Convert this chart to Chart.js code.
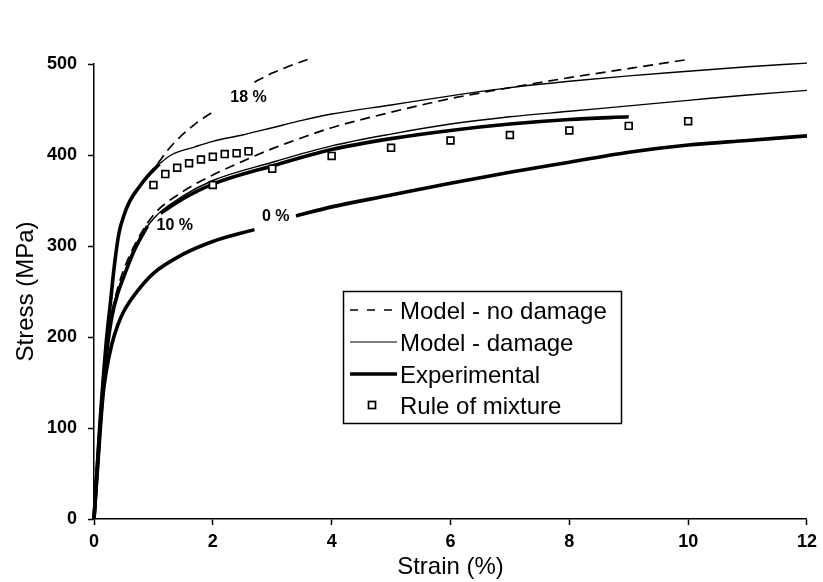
<!DOCTYPE html>
<html>
<head>
<meta charset="utf-8">
<title>Stress - strain</title>
<script src="https://cdn.jsdelivr.net/npm/chart.js@4.4.1/dist/chart.umd.min.js"></script>
<style>
  html, body { margin: 0; padding: 0; background: #fff; }
  #wrap { width: 823px; height: 582px; }
</style>
</head>
<body>
<div id="wrap"><canvas id="js_stressChart" width="823" height="582"></canvas></div>
<script>
// 0 % particles - experimental (gap where the "0 %" label sits)
const expStrain0 = [0, 0.08, 0.15, 0.2, 0.3, 0.4, 0.5, 0.75, 1.0, 1.5, 2.0, 2.7, 3.0, 3.4, 4, 5, 6, 7, 8, 9, 10, 11, 12];
const expStress0 = [0, 75, 135, 160, 192, 213, 228, 252, 270, 291, 305, 318, null, 333, 343, 356, 369, 381, 392, 403, 411, 416, 421];

// 10 % particles
const expStrain10 = [0, 0.1, 0.2, 0.3, 0.4, 0.5, 0.67, 0.9, 1.0, 1.12, 1.5, 2, 3, 4, 5, 6, 7, 8, 9];
const expStress10 = [0, 100, 175, 222, 248, 266, 294, 322, null, 336, 352, 368, 388, 406, 418, 427, 434, 439, 442];
const dmgStrain10 = [0, 0.1, 0.2, 0.3, 0.4, 0.5, 0.67, 1.0, 1.5, 2, 3, 4, 5, 6, 7, 8, 9, 10, 11, 12];
const dmgStress10 = [0, 100, 176, 224, 250, 268, 297, 330, 355, 372, 392, 410, 423, 434, 442, 448, 454, 460, 466, 471];
const noDmgStrain10 = [0, 0.1, 0.2, 0.3, 0.4, 0.5, 0.7, 1, 1.5, 2, 2.5, 3, 3.5, 4, 5, 6, 7, 8, 9, 10];
const noDmgStress10 = [0, 100, 178, 226, 254, 274, 303, 334, 360, 378, 393, 407, 419, 430, 447, 462, 474, 485, 495, 505];

// 18 % particles
const expStrain18 = [0, 0.1, 0.2, 0.28, 0.34, 0.42, 0.5, 0.6, 0.75, 0.92, 1.1];
const expStress18 = [0, 105, 190, 240, 277, 314, 333, 349, 364, 378, 390];
const dmgStrain18 = [0, 0.1, 0.2, 0.28, 0.34, 0.42, 0.5, 0.6, 0.75, 0.92, 1.1, 1.3, 1.7, 2, 2.5, 3, 3.5, 4, 5, 6, 7, 8, 9, 10, 11, 12];
const dmgStress18 = [0, 105, 190, 240, 277, 314, 333, 349, 364, 378, 390, 400, 409, 415, 422, 430, 438, 445, 455, 465, 474, 481, 487, 492, 497, 501];
const noDmgStrain18 = [0, 0.1, 0.2, 0.28, 0.34, 0.42, 0.5, 0.6, 0.75, 0.92, 1.1, 1.25, 1.45, 1.7, 2.04, 2.4, 2.7, 3.0, 3.3, 3.6];
const noDmgStress18 = [0, 105, 190, 240, 277, 314, 333, 349, 364, 378, 393, 406, 420, 434, 449, null, 480, 490, 498, 505];

// rule of mixture
const romStrain = [1.0, 1.2, 1.4, 1.6, 1.8, 2.0, 2.2, 2.4, 2.6, 2, 3, 4, 5, 6, 7, 8, 9, 10];
const romStress = [367, 379, 386, 391, 395, 398, 401, 402, 404, 367, 385, 399, 408, 416, 422, 427, 432, 437];

// curve labels
const curveLabels = ['18 %', '10 %', '0 %'];
const labelStrain = [2.6, 1.36, 3.06];
const labelStress = [463, 322, 332];

// tick values
const xTicks = [0, 2, 4, 6, 8, 10, 12];
const yTicks = [0, 100, 200, 300, 400, 500];

const legendItems = ['Model - no damage', 'Model - damage', 'Experimental', 'Rule of mixture'];

const FONT = "'Liberation Sans', Arial, Helvetica, sans-serif";
const DASH = [10, 6];

const pts = (xs, ys) => xs.map((x, i) => ({ x, y: ys[i] }));

const lineSet = (label, xs, ys, width, dash) => ({
  label,
  data: pts(xs, ys),
  borderColor: '#000',
  backgroundColor: '#000',
  borderWidth: width,
  borderDash: dash || [],
  pointRadius: 0,
  pointHoverRadius: 0,
  cubicInterpolationMode: 'monotone',
  spanGaps: false,
  clip: false,
  fill: false,
});

const datasets = [
  {
    label: 'Rule of mixture',
    data: pts(romStrain, romStress),
    showLine: false,
    pointStyle: 'rect',
    pointRadius: 4.8,
    pointBorderWidth: 1.7,
    pointBorderColor: '#000',
    pointBackgroundColor: '#fff',
    clip: false,
  },
  lineSet('Model - no damage 18', noDmgStrain18, noDmgStress18, 1.7, DASH),
  lineSet('Model - no damage 10', noDmgStrain10, noDmgStress10, 1.7, DASH),
  lineSet('Model - damage 18', dmgStrain18, dmgStress18, 1.4),
  lineSet('Model - damage 10', dmgStrain10, dmgStress10, 1.4),
  lineSet('Experimental 18', expStrain18, expStress18, 3.6),
  lineSet('Experimental 10', expStrain10, expStress10, 3.6),
  lineSet('Experimental 0', expStrain0, expStress0, 3.6),
];

// "18 %", "10 %", "0 %" next to the curves
const curveLabelPlugin = {
  id: 'curveLabels',
  afterDatasetsDraw(chart) {
    const { ctx, scales: { x, y } } = chart;
    ctx.save();
    ctx.fillStyle = '#000';
    ctx.font = 'bold 16px ' + FONT;
    ctx.textAlign = 'center';
    ctx.textBaseline = 'middle';
    curveLabels.forEach((t, i) => {
      ctx.fillText(t, x.getPixelForValue(labelStrain[i]), y.getPixelForValue(labelStress[i]));
    });
    ctx.restore();
  },
};

// boxed legend inside the plot
const legendBoxPlugin = {
  id: 'legendBox',
  afterDraw(chart) {
    const { ctx } = chart;
    const left = 343.5;
    const top = 291.5;
    const right = 621.5;
    const bottom = 423.5;
    const rows = [310, 342, 374, 405];
    ctx.save();
    ctx.fillStyle = '#fff';
    ctx.fillRect(left, top, right - left, bottom - top);
    ctx.strokeStyle = '#000';
    ctx.lineWidth = 1.5;
    ctx.strokeRect(left, top, right - left, bottom - top);

    const sample = (y, width, dash) => {
      ctx.beginPath();
      ctx.setLineDash(dash);
      ctx.lineWidth = width;
      ctx.moveTo(350, y);
      ctx.lineTo(dash.length ? 392 : 397, y);
      ctx.stroke();
      ctx.setLineDash([]);
    };
    sample(rows[0], 1.7, [8, 9]);
    sample(rows[1], 1.2, []);
    sample(rows[2], 3.6, []);
    ctx.lineWidth = 1.7;
    ctx.fillStyle = '#fff';
    ctx.fillRect(368.5, rows[3] - 3.5, 7, 7);
    ctx.strokeRect(368.5, rows[3] - 3.5, 7, 7);

    ctx.fillStyle = '#000';
    ctx.font = '24px ' + FONT;
    ctx.textAlign = 'left';
    ctx.textBaseline = 'alphabetic';
    legendItems.forEach((t, i) => ctx.fillText(t, 400, rows[i] + 8.5));
    ctx.restore();
  },
};

document.addEventListener('DOMContentLoaded', () => {
  const ctx = document.getElementById('js_stressChart');
  Chart.defaults.font.family = FONT;
  Chart.defaults.color = '#000';

  new Chart(ctx, {
    type: 'line',
    data: { datasets },
    options: {
      responsive: false,
      animation: false,
      devicePixelRatio: 1,
      layout: { padding: { top: 64, right: 12, bottom: 0, left: 0 } },
      plugins: {
        legend: { display: false },
        tooltip: { enabled: false },
      },
      scales: {
        x: {
          type: 'linear',
          min: 0,
          max: 12,
          afterFit: (s) => { s.height = 63; },
          afterBuildTicks: (s) => { s.ticks = xTicks.map((v) => ({ value: v })); },
          grid: { drawOnChartArea: false, color: '#000', tickLength: 6, tickWidth: 1.5 },
          border: { color: '#000', width: 1.5 },
          ticks: { font: { size: 18, weight: 'bold' }, padding: 6, maxRotation: 0 },
          title: { display: true, text: 'Strain (%)', font: { size: 24 }, padding: { top: 0, bottom: 0 } },
        },
        y: {
          type: 'linear',
          min: 0,
          max: 500,
          afterFit: (s) => { s.width = 94; },
          afterBuildTicks: (s) => { s.ticks = yTicks.map((v) => ({ value: v })); },
          grid: { drawOnChartArea: false, color: '#000', tickLength: 6, tickWidth: 1.5 },
          border: { color: '#000', width: 1.5 },
          ticks: { font: { size: 18, weight: 'bold' }, padding: 11 },
          title: { display: true, text: 'Stress (MPa)', font: { size: 24 }, padding: { top: 12, bottom: 0 } },
        },
      },
    },
    plugins: [curveLabelPlugin, legendBoxPlugin],
  });
});
</script>
</body>
</html>
